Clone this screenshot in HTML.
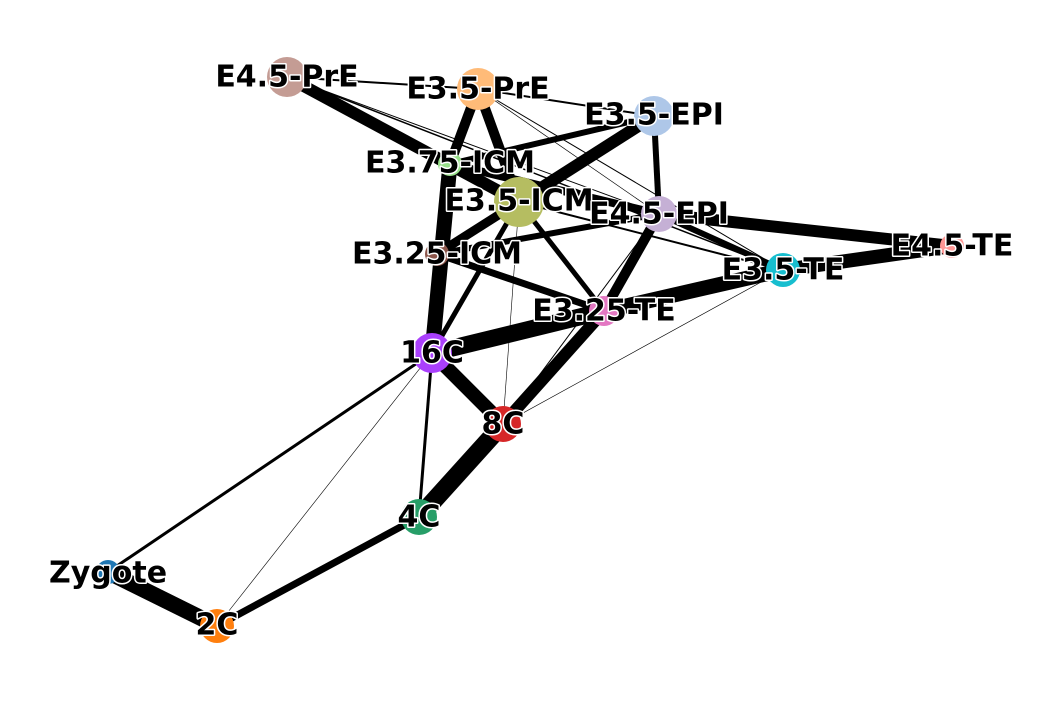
<!DOCTYPE html>
<html><head><meta charset="utf-8"><style>html,body{margin:0;padding:0;background:#fff}svg{display:block}
text{font-family:"DejaVu Sans","Liberation Sans",sans-serif;font-weight:bold;font-size:30px;fill:#000;stroke:#fff;stroke-width:3px;paint-order:stroke;stroke-linejoin:round}</style></head><body>
<svg width="1062" height="704" viewBox="0 0 1062 704" xmlns="http://www.w3.org/2000/svg">
<g stroke="#000" stroke-linecap="butt" fill="none">
<line x1="108" y1="572" x2="217" y2="626" stroke-width="16"/>
<line x1="217" y1="626" x2="419" y2="517" stroke-width="7"/>
<line x1="419" y1="517" x2="503" y2="424" stroke-width="18"/>
<line x1="503" y1="424" x2="432" y2="353" stroke-width="14"/>
<line x1="432" y1="353" x2="604" y2="311" stroke-width="17"/>
<line x1="503" y1="424" x2="604" y2="311" stroke-width="12"/>
<line x1="108" y1="572" x2="432" y2="353" stroke-width="3"/>
<line x1="419" y1="517" x2="432" y2="353" stroke-width="3"/>
<line x1="217" y1="626" x2="432" y2="353" stroke-width="0.6"/>
<line x1="503" y1="424" x2="519" y2="202" stroke-width="0.6"/>
<line x1="503" y1="424" x2="783" y2="270" stroke-width="0.6"/>
<line x1="503" y1="424" x2="659" y2="214" stroke-width="1"/>
<line x1="432" y1="353" x2="450" y2="164" stroke-width="15"/>
<line x1="432" y1="353" x2="519" y2="202" stroke-width="5"/>
<line x1="437" y1="254" x2="519" y2="202" stroke-width="9"/>
<line x1="437" y1="254" x2="659" y2="214" stroke-width="6"/>
<line x1="437" y1="254" x2="604" y2="311" stroke-width="7"/>
<line x1="519" y1="202" x2="604" y2="311" stroke-width="5"/>
<line x1="519" y1="202" x2="654" y2="116" stroke-width="12"/>
<line x1="478" y1="89" x2="519" y2="202" stroke-width="10"/>
<line x1="478" y1="89" x2="450" y2="164" stroke-width="10"/>
<line x1="287" y1="77" x2="519" y2="202" stroke-width="12"/>
<line x1="450" y1="164" x2="659" y2="214" stroke-width="8"/>
<line x1="450" y1="164" x2="654" y2="116" stroke-width="6"/>
<line x1="654" y1="116" x2="659" y2="214" stroke-width="6"/>
<line x1="659" y1="214" x2="952" y2="246" stroke-width="12"/>
<line x1="783" y1="270" x2="952" y2="246" stroke-width="14"/>
<line x1="604" y1="311" x2="783" y2="270" stroke-width="15"/>
<line x1="659" y1="214" x2="604" y2="311" stroke-width="10"/>
<line x1="659" y1="214" x2="783" y2="270" stroke-width="6"/>
<line x1="519" y1="202" x2="783" y2="270" stroke-width="2"/>
<line x1="287" y1="77" x2="478" y2="89" stroke-width="2"/>
<line x1="478" y1="89" x2="654" y2="116" stroke-width="2"/>
<line x1="287" y1="77" x2="783" y2="270" stroke-width="1.5"/>
<line x1="287" y1="77" x2="659" y2="214" stroke-width="1"/>
<line x1="478" y1="89" x2="783" y2="270" stroke-width="1"/>
<line x1="478" y1="89" x2="659" y2="214" stroke-width="0.7"/>
</g>
<g stroke="none">
<circle cx="287" cy="77" r="20" fill="#c49c94"/>
<circle cx="478" cy="89" r="21" fill="#ffbb78"/>
<circle cx="654" cy="116" r="20" fill="#aec7e8"/>
<circle cx="450" cy="164" r="12" fill="#98df8a"/>
<circle cx="519" cy="202" r="25" fill="#b5bd61"/>
<circle cx="659" cy="214" r="18" fill="#c5b0d5"/>
<circle cx="437" cy="254" r="12" fill="#8c564b"/>
<circle cx="952" cy="246" r="12" fill="#ff9896"/>
<circle cx="783" cy="270" r="17" fill="#17becf"/>
<circle cx="604" cy="311" r="15" fill="#e377c2"/>
<circle cx="432" cy="353" r="20" fill="#aa40fc"/>
<circle cx="503" cy="424" r="18" fill="#d62728"/>
<circle cx="419" cy="517" r="18" fill="#279e68"/>
<circle cx="108" cy="572" r="12" fill="#1f77b4"/>
<circle cx="217" cy="626" r="17" fill="#ff7f0e"/>
</g>
<g text-anchor="middle" dominant-baseline="central">
<text x="287" y="77">E4.5-PrE</text>
<text x="478" y="89">E3.5-PrE</text>
<text x="654" y="115">E3.5-EPI</text>
<text x="450" y="163">E3.75-ICM</text>
<text x="519" y="201">E3.5-ICM</text>
<text x="659" y="214">E4.5-EPI</text>
<text x="437" y="254">E3.25-ICM</text>
<text x="952" y="246">E4.5-TE</text>
<text x="783" y="270">E3.5-TE</text>
<text x="604" y="311">E3.25-TE</text>
<text x="432" y="353">16C</text>
<text x="503" y="424">8C</text>
<text x="419" y="517">4C</text>
<text x="108" y="573">Zygote</text>
<text x="217" y="625">2C</text>
</g>
</svg>
</body></html>
